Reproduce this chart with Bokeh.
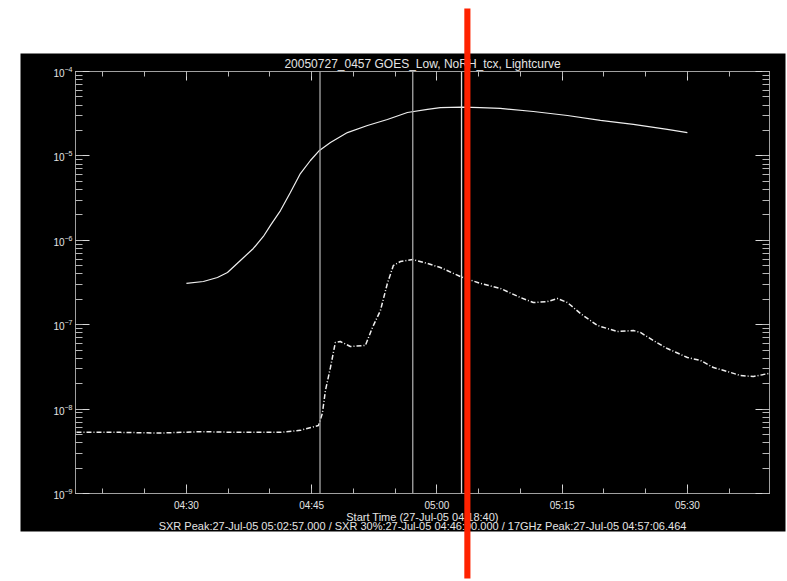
import math
import pandas as pd
from bokeh.plotting import figure
from bokeh.core.properties import value
from bokeh.models import (Range1d, LogAxis, DatetimeAxis, LogTicker, FixedTicker,
                          Span, ColumnDataSource, CustomJSTickFormatter)
from bokeh.embed import file_html
from bokeh.resources import INLINE

DATE = "2005-07-27"
TITLE = "20050727_0457 GOES_Low, NoRH_tcx, Lightcurve"
START_LABEL = "Start Time (27-Jul-05 04:18:40)"
PEAK_LABEL = ("SXR Peak:27-Jul-05 05:02:57.000 / SXR 30%:27-Jul-05 04:46:00.000 / "
              "17GHz Peak:27-Jul-05 04:57:06.464")

# GOES low channel (solid)
goes_time = ["04:30:00", "04:32:02", "04:33:43", "04:34:55", "04:36:28", "04:38:01",
             "04:39:13", "04:40:04", "04:41:16", "04:42:27", "04:43:39", "04:44:51",
             "04:45:56", "04:47:15", "04:49:17", "04:51:41", "04:54:04", "04:56:28",
             "04:58:52", "05:00:25", "05:02:57", "05:05:13", "05:07:36", "05:11:33",
             "05:15:38", "05:19:35", "05:23:32", "05:27:36", "05:30:00"]
goes_flux = [3.08e-7, 3.25e-7, 3.62e-7, 4.15e-7, 5.77e-7, 8.0e-7,
             1.11e-6, 1.50e-6, 2.25e-6, 3.68e-6, 6.18e-6, 8.82e-6,
             1.16e-5, 1.44e-5, 1.89e-5, 2.29e-5, 2.70e-5, 3.27e-5,
             3.55e-5, 3.74e-5, 3.78e-5, 3.74e-5, 3.65e-5, 3.36e-5,
             3.01e-5, 2.63e-5, 2.36e-5, 2.06e-5, 1.89e-5]

# NoRH 17 GHz (dash-dot)
ghz_time = ["04:16:50", "04:22:06", "04:26:53", "04:31:41", "04:36:28", "04:41:16",
            "04:43:39", "04:45:49", "04:46:17", "04:46:39", "04:47:15", "04:47:50",
            "04:48:26", "04:49:38", "04:51:26", "04:52:17", "04:53:14", "04:54:04",
            "04:54:47", "04:55:38", "04:57:06", "04:58:52", "05:00:25", "05:02:49",
            "05:05:13", "05:07:36", "05:10:00", "05:11:33", "05:13:14", "05:14:26",
            "05:15:38", "05:17:11", "05:19:13", "05:21:37", "05:23:32", "05:24:22",
            "05:25:56", "05:27:36", "05:30:00", "05:31:34", "05:33:07", "05:34:47",
            "05:36:21", "05:37:54", "05:39:42"]
ghz_flux = [5.3e-9, 5.3e-9, 5.2e-9, 5.4e-9, 5.3e-9, 5.3e-9,
            5.6e-9, 6.4e-9, 8.9e-9, 1.66e-8, 3.11e-8, 6.15e-8,
            6.32e-8, 5.52e-8, 5.67e-8, 9.27e-8, 1.47e-7, 3.08e-7,
            5.02e-7, 5.61e-7, 5.93e-7, 5.31e-7, 4.76e-7, 3.72e-7,
            3.08e-7, 2.69e-7, 2.10e-7, 1.83e-7, 1.88e-7, 2.04e-7,
            1.83e-7, 1.36e-7, 9.79e-8, 8.30e-8, 8.53e-8, 8.09e-8,
            6.50e-8, 5.22e-8, 4.09e-8, 3.77e-8, 3.11e-8, 2.79e-8,
            2.50e-8, 2.43e-8, 2.64e-8]

marker_times = ["04:46:00", "04:57:06.464", "05:02:57"]
x_tick_labels = ["04:30", "04:45", "05:00", "05:15", "05:30"]
x_start, x_end = "04:16:43", "05:39:50"
minor_start, minor_end = "04:20", "05:35"
y_min, y_max = 1e-9, 1e-4
highlight = ("05:03:17", "05:04:01")


def ts(t):
    return pd.Timestamp(f"{DATE} {t}")


def ms(t):
    return ts(t).value / 1e6


# page geometry (pixels)
W, H = 787, 581
FL, FR, FT, FB = 75, 769, 71, 493          # plot frame
X0, X1 = ms(x_start), ms(x_end)


def px_to_x(px):
    return X0 + (px - FL) / (FR - FL) * (X1 - X0)


def py_to_y(py):
    lo, hi = math.log10(y_min), math.log10(y_max)
    return 10 ** (hi - (py - FT) / (FB - FT) * (hi - lo))


AXIS_GRAY = "#a0a0a0"
TEXT = "#e4e4e4"
FONT = "Liberation Sans"

p = figure(width=W, height=H, x_axis_type="datetime", y_axis_type="log",
           output_backend="svg", toolbar_location=None,
           x_range=Range1d(X0, X1), y_range=Range1d(y_min, y_max),
           min_border_left=FL, min_border_right=W - FR, min_border_top=FT,
           min_border_bottom=H - FB)
p.background_fill_color = "black"
p.border_fill_color = "black"
p.outline_line_color = AXIS_GRAY
p.xgrid.visible = False
p.ygrid.visible = False

# title
p.title.text = TITLE
p.title.align = "center"
p.title.text_font = FONT
p.title.text_font_size = "12px"
p.title.text_font_style = "normal"
p.title.text_color = TEXT
p.title.standoff = 2

# tickers
major_ms = [ms(t) for t in x_tick_labels]
minor_ms = [t.value / 1e6 for t in pd.date_range(ts(minor_start), ts(minor_end), freq="5min")]
xticker = FixedTicker(ticks=major_ms, minor_ticks=minor_ms)
blank = CustomJSTickFormatter(code="return ''")


def style(ax, labels=True, major_in=9, minor_in=5):
    ax.axis_line_color = AXIS_GRAY
    ax.major_tick_line_color = "#d8d8d8"
    ax.minor_tick_line_color = "#b8b8b8"
    ax.major_tick_in = major_in
    ax.major_tick_out = 0
    ax.minor_tick_in = minor_in
    ax.minor_tick_out = 0
    ax.major_label_text_color = TEXT
    ax.major_label_text_font = FONT
    ax.major_label_text_font_size = "10px"
    if not labels:
        ax.formatter = blank
        ax.major_label_standoff = 0


xb = p.xaxis[0]
xb.ticker = xticker
xb.major_label_overrides = {m: lab for m, lab in zip(major_ms, x_tick_labels)}
style(xb)
xb.major_label_standoff = 6

yl = p.yaxis[0]
yl.ticker = LogTicker(num_minor_ticks=10)
style(yl, major_in=14, minor_in=7)
yl.major_label_standoff = 3

xt = DatetimeAxis(ticker=xticker)
style(xt, labels=False)
p.add_layout(xt, "above")

yr = LogAxis(ticker=LogTicker(num_minor_ticks=10))
style(yr, labels=False, major_in=14, minor_in=7)
p.add_layout(yr, "right")

# curves
goes_src = ColumnDataSource(dict(x=[ts(t) for t in goes_time], y=goes_flux))
ghz_src = ColumnDataSource(dict(x=[ts(t) for t in ghz_time], y=ghz_flux))
p.line("x", "y", source=goes_src, line_color="#eeeeee", line_width=1.2)
p.line("x", "y", source=ghz_src, line_color="#eeeeee", line_width=1.5, line_dash="5 2 1 2")

# event markers
for t, c in zip(marker_times, ["#a8a8a8", "#a8a8a8", "#e0e0e0"]):
    p.add_layout(Span(location=ms(t), dimension="height", line_color=c, line_width=1.3))

# bottom info lines (drawn below the frame)
xc = (X0 + X1) / 2
p.text(x=[xc, xc], y=[y_min, y_min], text=[START_LABEL, PEAK_LABEL], y_offset=[23, 32],
       text_align="center", text_baseline="middle", text_font=value(FONT),
       text_font_size="11px", text_color=TEXT, level="overlay")

# white page area around the black IDL window
BL, BR, BT, BB = 20, 785, 53, 531
wl = [px_to_x(-50), px_to_x(-50), px_to_x(-50), px_to_x(BR)]
wr = [px_to_x(W + 50), px_to_x(BL), px_to_x(W + 50), px_to_x(W + 50)]
wb = [py_to_y(BT), py_to_y(H + 50), py_to_y(H + 50), py_to_y(H + 50)]
wt = [py_to_y(-50), py_to_y(-50), py_to_y(BB), py_to_y(-50)]
p.quad(left=wl, right=wr, bottom=wb, top=wt, fill_color="white", line_color=None,
       level="overlay")

# red overlay band
p.quad(left=[ms(highlight[0])], right=[ms(highlight[1])], bottom=[py_to_y(578)],
       top=[py_to_y(8)], fill_color="#ff2200", line_color=None, level="overlay")

open("out.html", "w").write(file_html(p, INLINE))
